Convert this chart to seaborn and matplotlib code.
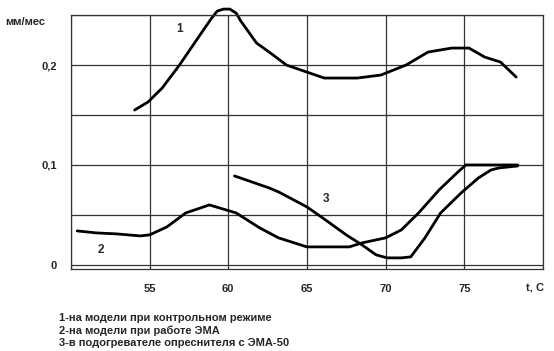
import numpy as np
import pandas as pd
import matplotlib
matplotlib.use("Agg")
import matplotlib.pyplot as plt
import seaborn as sns

# curve 1: model, control regime
t1 = [54.05, 54.9, 55.8, 56.9, 58.2, 58.9, 59.3, 59.7, 60.1, 60.5, 60.8, 61.8, 62.6,
      63.7, 66.1, 68.2, 69.7, 71.3, 72.7, 74.2, 75.3, 76.3, 77.3, 78.3]
v1 = [0.155, 0.163, 0.177, 0.200, 0.230, 0.246, 0.254, 0.256, 0.256, 0.252, 0.244, 0.222, 0.213,
      0.200, 0.187, 0.187, 0.190, 0.200, 0.213, 0.217, 0.217, 0.208, 0.203, 0.188]

# curve 2: model with EMA
t2 = [50.4, 51.6, 52.9, 54.4, 55.0, 56.1, 57.3, 58.8, 60.5, 62.0, 62.6, 63.2,
      65.0, 67.7, 68.5, 70.0, 71.0, 72.1, 73.4, 74.6, 75.1, 76.5, 78.4]
v2 = [0.034, 0.032, 0.031, 0.029, 0.030, 0.038, 0.052, 0.060, 0.052, 0.037, 0.032, 0.027,
      0.018, 0.018, 0.022, 0.027, 0.035, 0.052, 0.075, 0.093, 0.100, 0.100, 0.100]

# curve 3: desalter heater with EMA-50
t3 = [60.4, 62.6, 63.2, 65.0, 66.0, 67.5, 68.5, 69.4, 70.1, 71.0, 71.6, 72.5,
      73.5, 74.8, 75.9, 76.7, 77.2, 78.4]
v3 = [0.089, 0.077, 0.073, 0.058, 0.047, 0.030, 0.020, 0.010, 0.007, 0.007, 0.008, 0.027,
      0.052, 0.072, 0.087, 0.095, 0.097, 0.099]

x_ticks = [55, 60, 65, 70, 75]
y_ticks = [0, 0.1, 0.2]
y_tick_labels = ["0", "0,1", "0,2"]
legend_lines = [
    "1-на модели при контрольном режиме",
    "2-на модели при работе ЭМА",
    "3-в подогревателе опреснителя с ЭМА-50",
]

df = pd.concat([
    pd.DataFrame({"t": t1, "v": v1, "curve": "1"}),
    pd.DataFrame({"t": t2, "v": v2, "curve": "2"}),
    pd.DataFrame({"t": t3, "v": v3, "curve": "3"}),
])

sns.set_style("white")
plt.rcParams["font.family"] = ["Liberation Sans", "DejaVu Sans"]

fig = plt.figure(figsize=(5.54, 3.51), dpi=100)
ax = fig.add_axes([0.128, 0.234, 0.852, 0.723])

sns.lineplot(data=df, x="t", y="v", hue="curve", units="curve", estimator=None,
             sort=False, palette=["black"] * 3, linewidth=2, legend=False, ax=ax)
# curve 1 peaks above the frame in the original
for ln in ax.get_lines():
    ln.set_clip_on(False)

ax.set_xlim(50, 80)
ax.set_ylim(-0.004, 0.25)
ax.set_xticks(x_ticks)
ax.set_xticks([50, 80], minor=True)
ax.set_yticks(y_ticks)
ax.set_yticklabels(y_tick_labels)
ax.set_yticks([0.05, 0.15, 0.25], minor=True)
ax.grid(True, which="both", color="#333333", linewidth=0.9)
ax.tick_params(which="both", length=0, labelsize=8)
ax.tick_params(axis="x", pad=11)
ax.tick_params(axis="y", pad=10)
for lab in ax.get_xticklabels() + ax.get_yticklabels():
    lab.set_fontweight("bold")
for s in ax.spines.values():
    s.set_color("#333333")
    s.set_linewidth(0.9)
ax.set_xlabel("")
ax.set_ylabel("")

ax.text(79.5, -0.023, "t, C", ha="center", va="center", fontsize=8, fontweight="bold")
fig.text(0.01, 0.937, "мм/мес", ha="left", va="center", fontsize=8, fontweight="bold")

ax.text(56.9, 0.236, "1", fontsize=8.5, fontweight="bold", ha="center", va="center")
ax.text(51.9, 0.015, "2", fontsize=8.5, fontweight="bold", ha="center", va="center")
ax.text(66.2, 0.066, "3", fontsize=8.5, fontweight="bold", ha="center", va="center")

for i, line in enumerate(legend_lines):
    fig.text(0.106, (351 - 318 - 12.5 * i) / 351, line, ha="left", va="center",
             fontsize=8, fontweight="bold")

fig.savefig("out.png", dpi=100)
